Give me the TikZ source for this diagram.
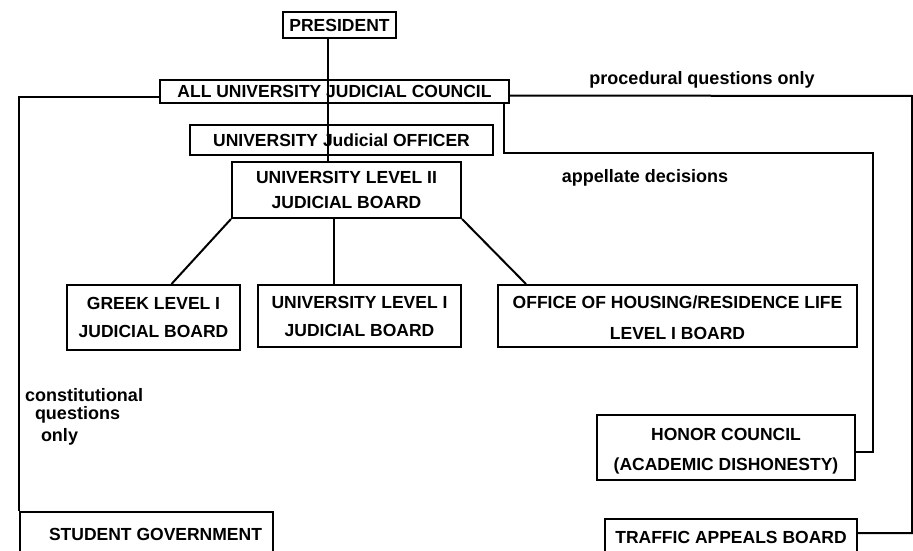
\documentclass[tikz,border=0pt]{standalone}
\usepackage{fontspec}
\setmainfont{Liberation Sans}
\begin{document}
\begin{tikzpicture}[x=1pt,y=-1pt,line width=2pt]
    \tikzstyle{board}=[draw, inner sep=0pt, align=center, font=\bfseries\fontsize{17.5}{25}\selectfont]
    \tikzstyle{note}=[inner sep=0pt, font=\bfseries\fontsize{18}{20}\selectfont]
    \useasboundingbox (0,0) rectangle (913,551);
    % boxes
    \node[board, minimum width=113pt, minimum height=26pt] (pres) at (339.5,25){PRESIDENT};
    \node[board, minimum width=349pt, minimum height=23pt] (aujc) at (334.5,91.5){ALL UNIVERSITY JUDICIAL COUNCIL};
    \node[board, minimum width=303pt, minimum height=30pt] (ujo) at (341.5,140){UNIVERSITY Judicial OFFICER};
    \node[board, minimum width=229pt, minimum height=56pt] (ulii) at (346.5,190){UNIVERSITY LEVEL II\\JUDICIAL BOARD};
    \node[board, minimum width=173pt, minimum height=65pt] (greek) at (153.5,317.5){GREEK LEVEL I\\[3pt]JUDICIAL BOARD};
    \node[board, minimum width=203pt, minimum height=62pt] (uli) at (359.5,316){UNIVERSITY LEVEL I\\[3pt]JUDICIAL BOARD};
    \node[board, minimum width=359pt, minimum height=62pt] (office) at (677.5,316){\rule{0pt}{16pt}OFFICE OF HOUSING/RESIDENCE LIFE\\[6pt]LEVEL I BOARD};
    \node[board, minimum width=258pt, minimum height=65pt] (honor) at (726,447.5){\rule{0pt}{19pt}HONOR COUNCIL\\[5pt](ACADEMIC DISHONESTY)};
    \node[board, minimum width=252pt, minimum height=36pt] (traffic) at (731,537){TRAFFIC APPEALS BOARD};
    \node[board, minimum width=253pt, minimum height=44pt] (stugov) at (146.5,534){\hspace*{18pt}STUDENT GOVERNMENT};
    % labels
    \node[note] (proc) at (702,80){procedural questions only};
    \node[note] (appl) at (645,178){appellate decisions};
    \node[note, anchor=west] (con1) at (24,395){constitutional};
    \node[note, anchor=west] (con2) at (34,415){questions};
    \node[note, anchor=west] (con3) at (40,437){only};
    \coordinate (trunk) at (328,38);
    \coordinate (edge) at (912,96);
    \coordinate (bend) at (873,153);
    % lines
    \draw (trunk) -- (trunk |- ulii.north);
    \draw ([yshift=-5pt]aujc.west) -| (stugov.north west);
    \draw ([yshift=-4pt]aujc.east) -- (edge) |- ([yshift=4pt]traffic.east);
    \draw ([xshift=-6pt]aujc.south east) |- (bend) |- ([yshift=-4pt]honor.east);
    \draw (ulii.south west) -- ([xshift=18pt]greek.north);
    \draw ([xshift=-13pt]ulii.south) -- ([xshift=-13pt]ulii.south |- uli.north);
    \draw (ulii.south east) -- ([xshift=29pt]office.north west);
\end{tikzpicture}
\end{document}
